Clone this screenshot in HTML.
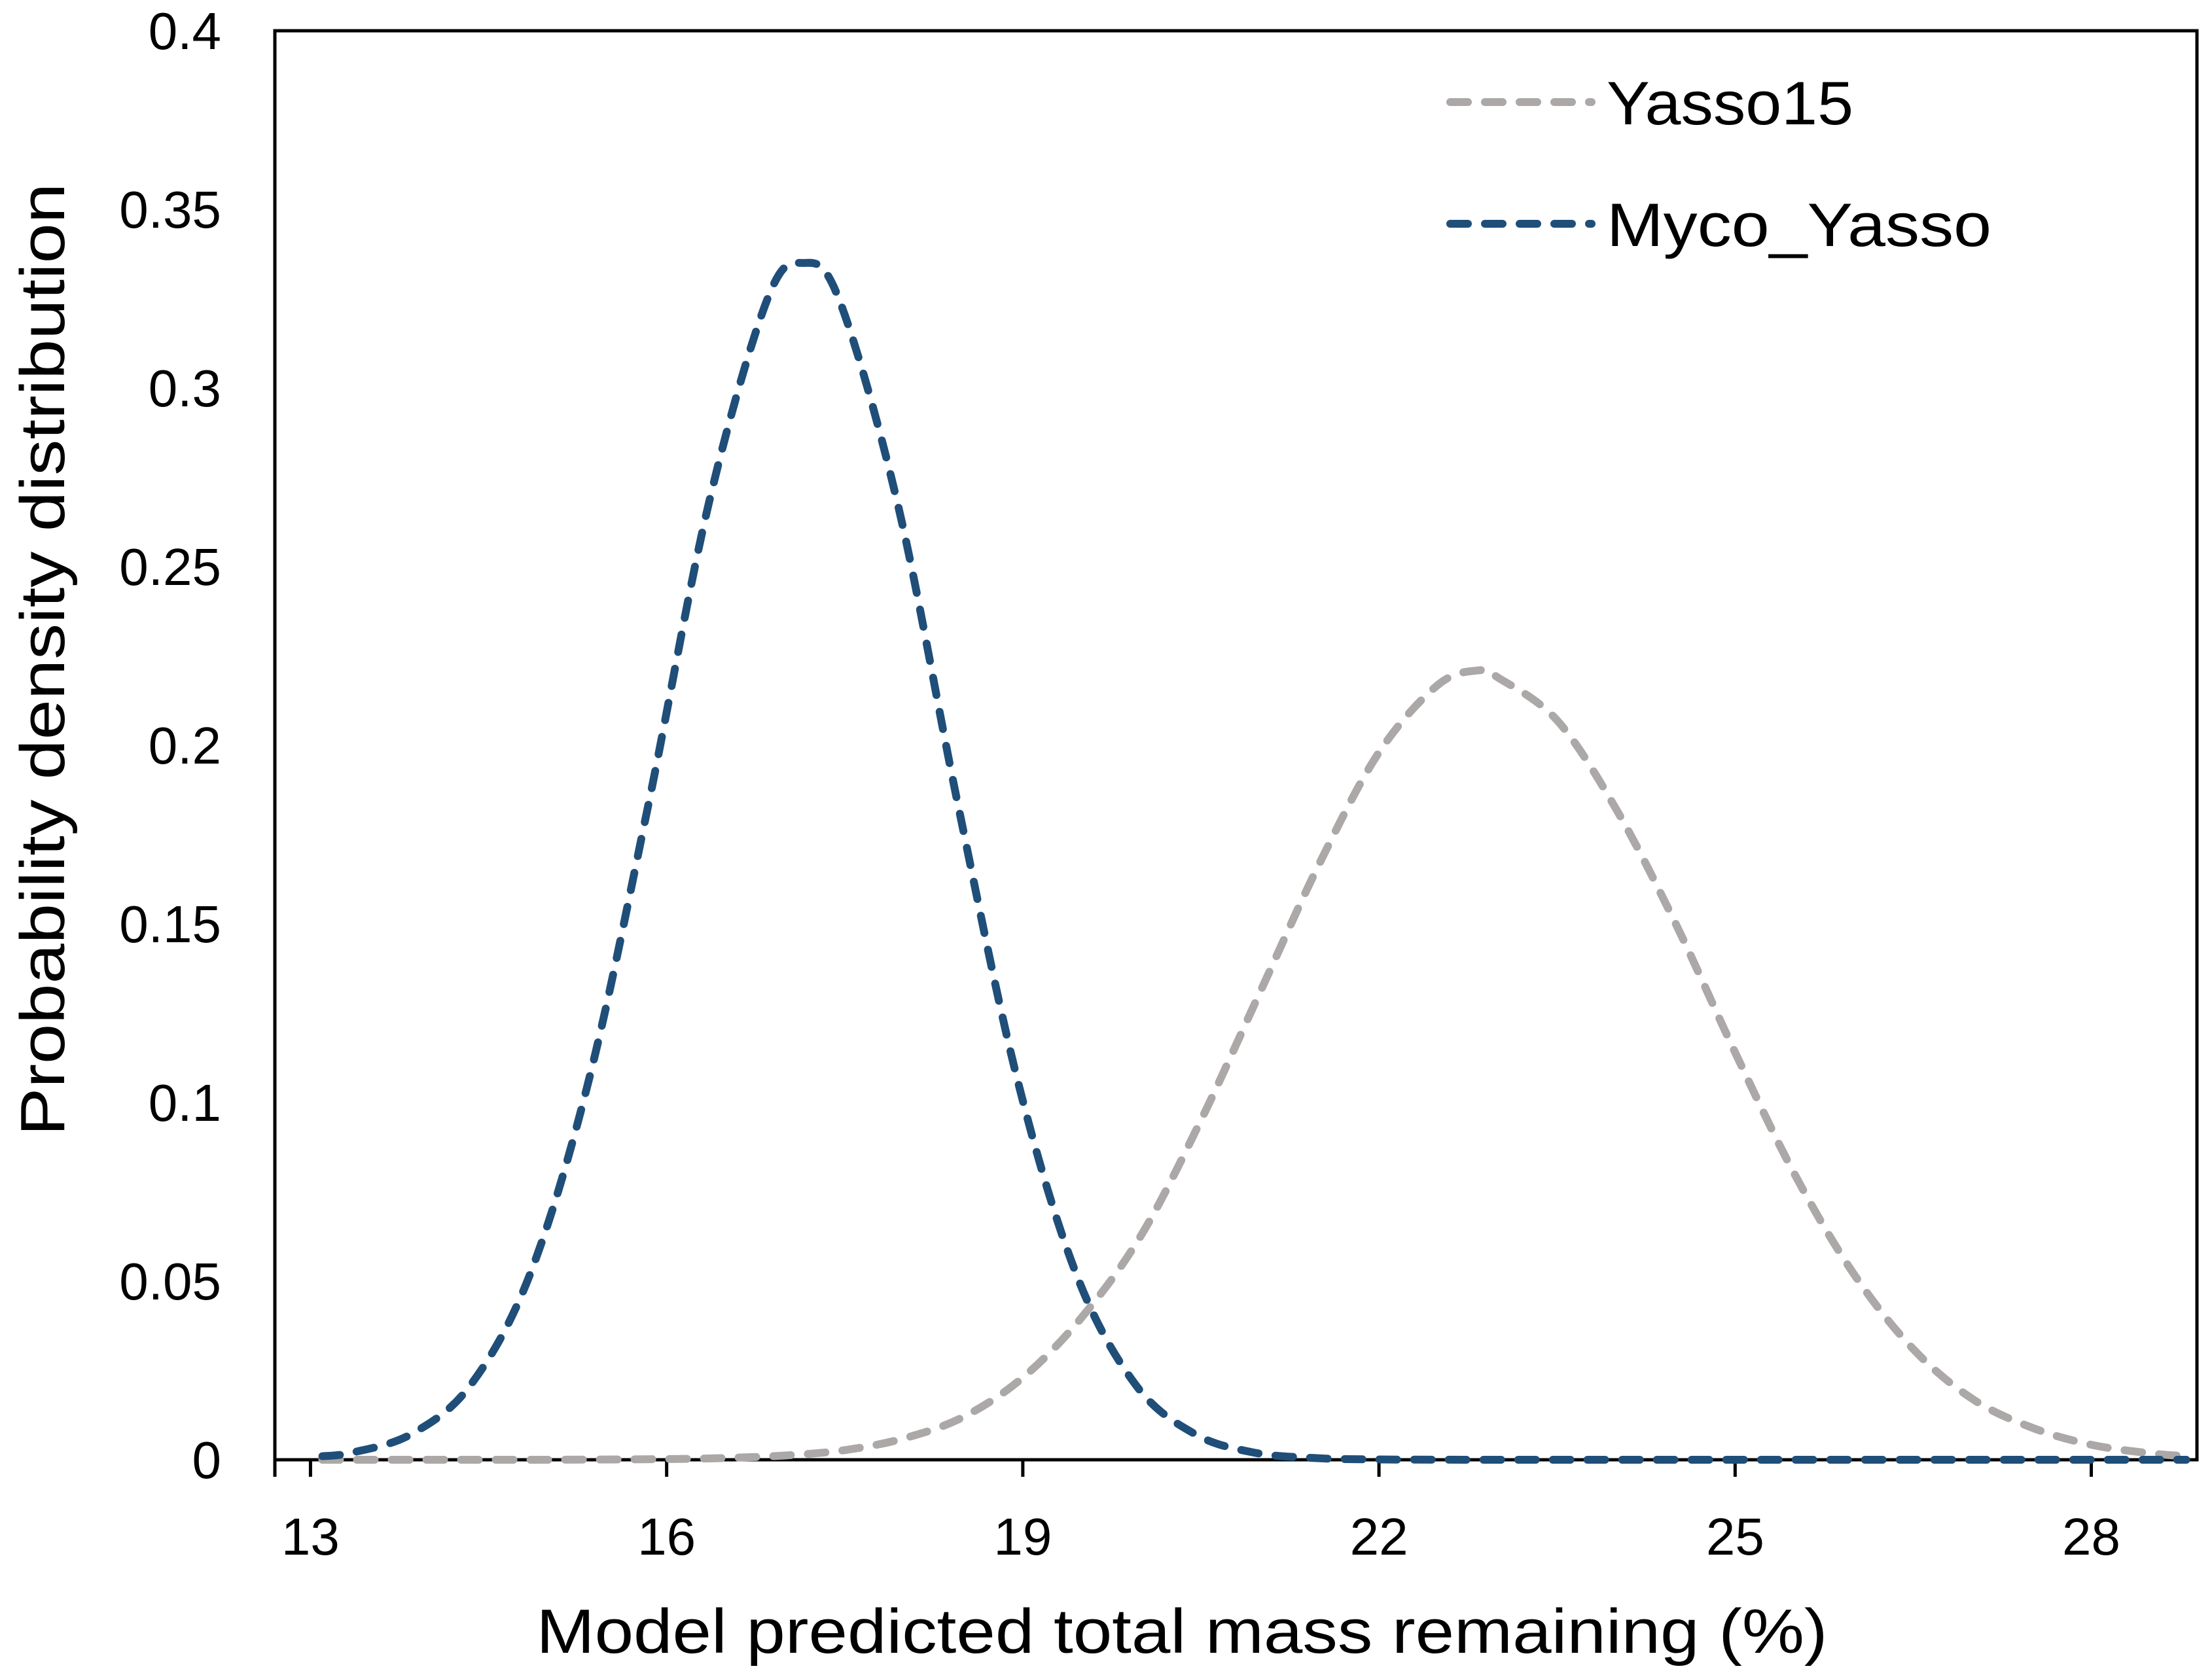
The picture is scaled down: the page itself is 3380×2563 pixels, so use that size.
<!DOCTYPE html>
<html><head><meta charset="utf-8"><style>
html,body{margin:0;padding:0;background:#fff;}
svg{display:block;}
text{font-family:"Liberation Sans",sans-serif;fill:#000;}
</style></head><body>
<svg id="chart" width="3380" height="2563" viewBox="0 0 3380 2563" xmlns="http://www.w3.org/2000/svg">
<g id="axes"></g>
<g id="series"></g>
<g id="legend"></g>
</svg>
<script>
const xTicks = [13, 16, 19, 22, 25, 28];
const yTicks = [0, 0.05, 0.1, 0.15, 0.2, 0.25, 0.3, 0.35, 0.4];
const yTickLabels = ["0", "0.05", "0.1", "0.15", "0.2", "0.25", "0.3", "0.35", "0.4"];
const mycoX = [13.1, 13.35, 13.85, 14.35, 14.85, 15.35, 15.85, 16.35, 16.85, 17.15, 17.45, 17.95, 18.45, 18.95, 19.45, 19.95, 20.45, 20.95, 21.45, 21.95, 23, 24, 25, 26, 27, 28, 28.8];
const mycoY = [0.001, 0.002, 0.0072, 0.021, 0.052, 0.107, 0.184, 0.267, 0.325, 0.335, 0.325, 0.267, 0.184, 0.107, 0.052, 0.021, 0.0072, 0.002, 0.0005, 0.0001, 0, 0, 0, 0, 0, 0, 0];
const yassoX = [13.1, 14, 15, 16, 16.5, 17, 17.5, 18, 18.5, 19, 19.5, 20, 20.5, 21, 21.5, 22, 22.5, 22.85, 23, 23.5, 24, 24.5, 25, 25.5, 26, 26.5, 27, 27.5, 28, 28.5, 28.8];
const yassoY = [0, 0, 0, 0.0002, 0.0005, 0.0012, 0.0027, 0.006, 0.012, 0.023, 0.040, 0.063, 0.095, 0.131, 0.167, 0.198, 0.217, 0.221, 0.219, 0.207, 0.182, 0.150, 0.114, 0.080, 0.052, 0.031, 0.017, 0.009, 0.0042, 0.0018, 0.001];

const L = 420, R = 3357, T = 47, B = 2231;
const xMin = 12.70, xMax = 28.89, yMin = 0, yMax = 0.4;
const sx = v => L + (v - xMin) / (xMax - xMin) * (R - L);
const sy = v => B - (v - yMin) / (yMax - yMin) * (B - T);
const NS = "http://www.w3.org/2000/svg";
function mk(tag, attrs, parent) {
  const e = document.createElementNS(NS, tag);
  for (const k in attrs) e.setAttribute(k, attrs[k]);
  parent.appendChild(e);
  return e;
}
const axes = document.getElementById('axes');
const series = document.getElementById('series');
const legend = document.getElementById('legend');

const frame = mk('rect', {x: L, y: T, width: R - L, height: B - T, fill: 'none', stroke: '#000', 'stroke-width': 5}, axes);


const ext = mk('line', {x1: L, y1: B, x2: L, y2: B + 26, stroke: '#000', 'stroke-width': 5}, axes);



xTicks.forEach(t => {
  const x = sx(t);
  const tk = mk('line', {x1: x, y1: B, x2: x, y2: B + 26, stroke: '#000', 'stroke-width': 5}, axes);
  
  
  const lb = mk('text', {x: x, y: B + 145, 'font-size': 80, 'text-anchor': 'middle'}, axes);
  lb.textContent = String(t);
  
  
});
yTicks.forEach((t, i) => {
  const y = sy(t);
  const lb = mk('text', {x: 338, y: y + 28, 'font-size': 80, 'text-anchor': 'end'}, axes);
  lb.textContent = yTickLabels[i];
  
  
});
const xt = mk('text', {x: 1806, y: 2526, 'font-size': 96, 'text-anchor': 'middle', textLength: 1973, lengthAdjust: 'spacingAndGlyphs'}, axes);
xt.textContent = 'Model predicted total mass remaining (%)';


const yt = mk('text', {x: 0, y: 0, 'font-size': 96, 'text-anchor': 'middle', textLength: 1456, lengthAdjust: 'spacingAndGlyphs', transform: 'translate(98,1008) rotate(-90)'}, axes);
yt.textContent = 'Probability density distribution';



function pathFor(xs, ys) {
  const p = xs.map((x, i) => [sx(x), sy(ys[i])]);
  let d = 'M' + p[0][0] + ',' + p[0][1];
  for (let i = 0; i < p.length - 1; i++) {
    const p0 = p[i - 1] || p[i], p1 = p[i], p2 = p[i + 1], p3 = p[i + 2] || p2;
    const c1x = p1[0] + (p2[0] - p0[0]) / 6, c1y = p1[1] + (p2[1] - p0[1]) / 6;
    const c2x = p2[0] - (p3[0] - p1[0]) / 6, c2y = p2[1] - (p3[1] - p1[1]) / 6;
    d += ' C' + c1x + ',' + Math.min(c1y, B) + ' ' + c2x + ',' + Math.min(c2y, B) + ' ' + p2[0] + ',' + p2[1];
  }
  return d;
}
const yl = mk('path', {d: pathFor(yassoX, yassoY), fill: 'none', stroke: '#ABA8A7', 'stroke-width': 12, 'stroke-dasharray': '27 26', 'stroke-linecap': 'round'}, series);


const ml = mk('path', {d: pathFor(mycoX, mycoY), fill: 'none', stroke: '#1F4E79', 'stroke-width': 12, 'stroke-dasharray': '27 26', 'stroke-linecap': 'round'}, series);



const leg = [['Yasso15', '#ABA8A7', 156, 377], ['Myco_Yasso', '#1F4E79', 342, 588]];
leg.forEach(e => {
  const ln = mk('line', {x1: 2216, y1: e[2], x2: 2432, y2: e[2], stroke: e[1], 'stroke-width': 12, 'stroke-dasharray': '27 26', 'stroke-linecap': 'round'}, legend);
  
  
  const tx = mk('text', {x: 2455, y: e[2] + 34, 'font-size': 94, textLength: e[3], lengthAdjust: 'spacingAndGlyphs'}, legend);
  tx.textContent = e[0];
  
  
});
</script>
</body></html>
